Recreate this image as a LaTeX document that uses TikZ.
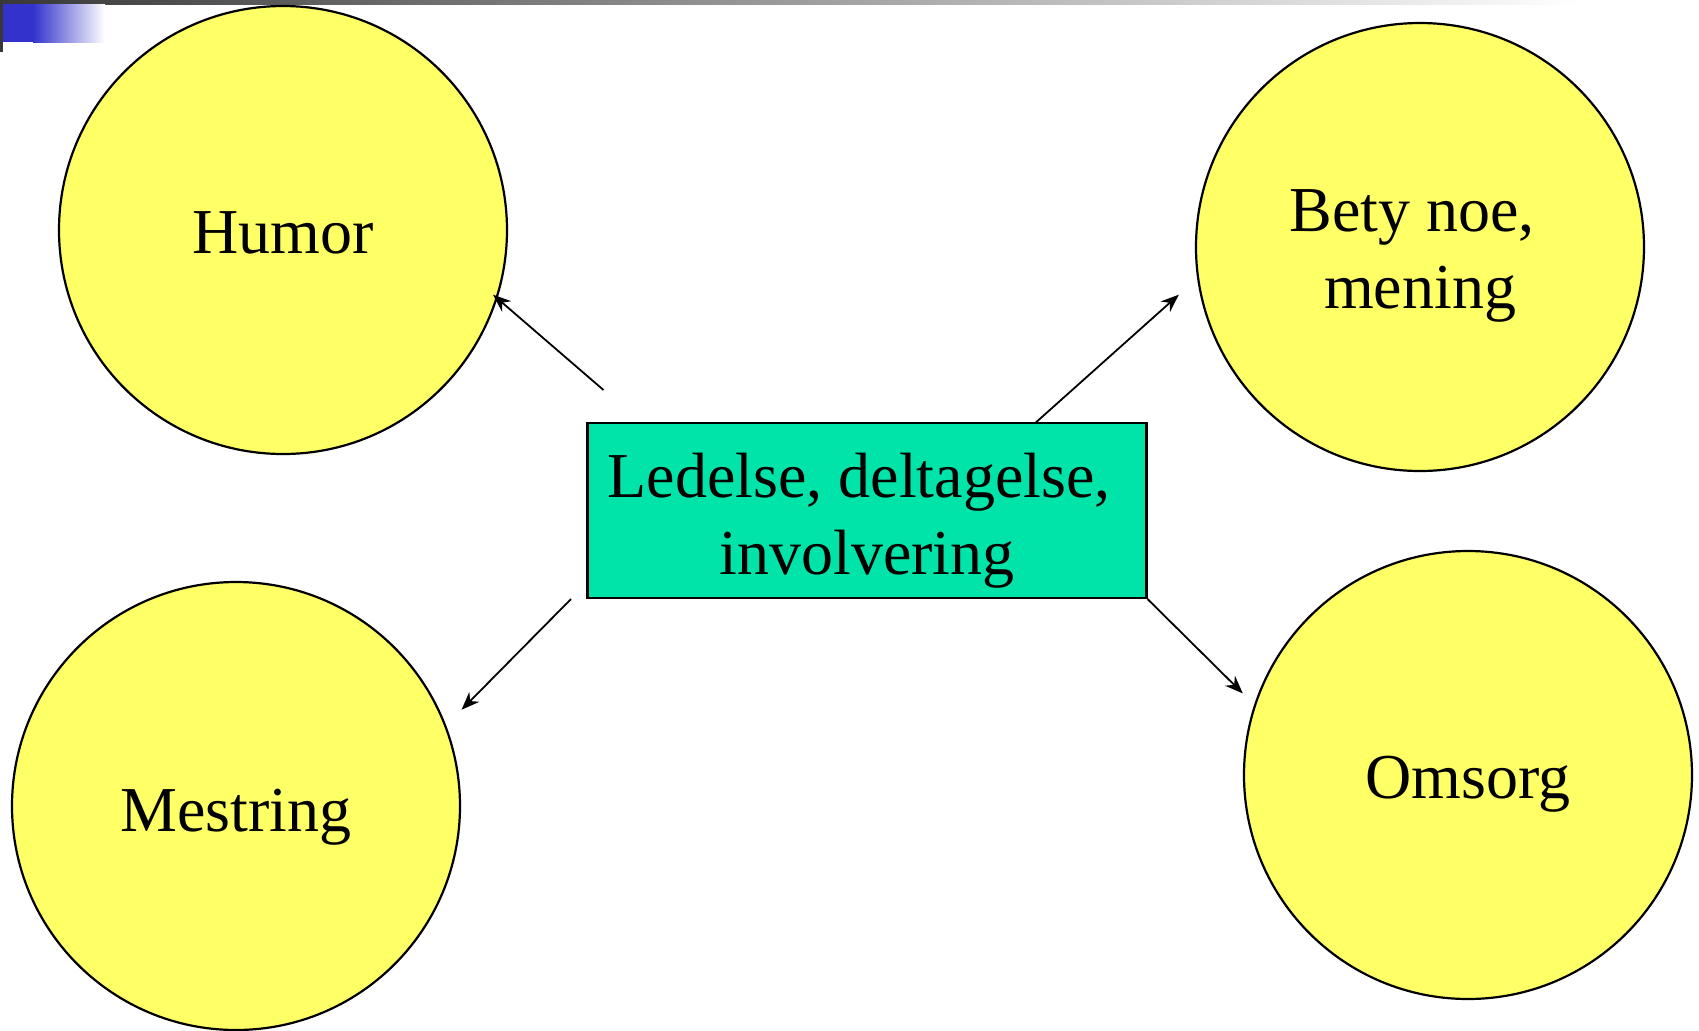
\documentclass[tikz,border=0pt]{standalone}
\usepackage{fontspec}
\setmainfont{Liberation Serif}
\usetikzlibrary{arrows.meta}
\definecolor{ballfill}{HTML}{FFFF66}
\definecolor{boxfill}{HTML}{00E4A9}
\definecolor{barblue}{HTML}{3333CC}
\definecolor{bargray}{HTML}{383838}
\begin{document}
\begin{tikzpicture}[x=0.5pt,y=-0.5pt,
    ball/.style={circle,draw,line width=1.1pt,fill=ballfill,minimum size=224pt,inner sep=0pt},
    box/.style={rectangle,draw,line width=1.1pt,fill=boxfill,minimum width=279.5pt,
      minimum height=87.5pt,inner sep=0pt},
    word/.style={inner sep=0pt,align=center,font=\fontsize{32}{38.5}\selectfont},
    link/.style={-{Stealth[length=9pt,width=7pt]},line width=0.9pt}]
  \useasboundingbox (0,0) rectangle (1699,1030);
  % header bar
  \shade[left color=bargray,right color=white] (0,0) rectangle (1580,4);
  \fill[bargray] (0,0) rectangle (3,52);
  \fill[barblue] (3,4) rectangle (33,42);
  \shade[left color=barblue,right color=white] (33,4) rectangle (105,42);
  % circles
  \draw
    (283,230) node[ball] (humor){}
    (1420,247) node[ball] (bety){}
    (236,806) node[ball] (mestring){}
    (1468,775) node[ball] (omsorg){};
  \node[box] (box) at (867,510.5) {};
  % texts
  \node[word] (humorText) at ([yshift=-1.6pt]humor.center) {Humor};
  \node[word] (betyText) at ([yshift=-4.6pt]bety.center) {Bety noe,\kern8pt\\mening};
  \node[word] (mestringText) at ([yshift=-5.5pt]mestring.center) {Mestring};
  \node[word] (omsorgText) at ([yshift=-4.4pt]omsorg.center) {Omsorg};
  \node[word] (boxText) at ([yshift=-5pt]box.center) {Ledelse, deltagelse,\kern8pt\\involvering};
  % arrow ends
  \coordinate (h0) at (603.5,390);
  \coordinate (h1) at (493,294.7);
  \coordinate (b0) at (1035.8,422.5);
  \coordinate (b1) at (1178.8,294.7);
  \coordinate (m0) at (571,599);
  \coordinate (m1) at (461.6,709.7);
  \coordinate (o1) at (1242.8,693.4);
  \begin{scope}[link]
    \draw (h0) to (h1);
    \draw (b0) to (b1);
    \draw (m0) to (m1);
    \draw (box.south east) to (o1);
  \end{scope}
\end{tikzpicture}
\end{document}
